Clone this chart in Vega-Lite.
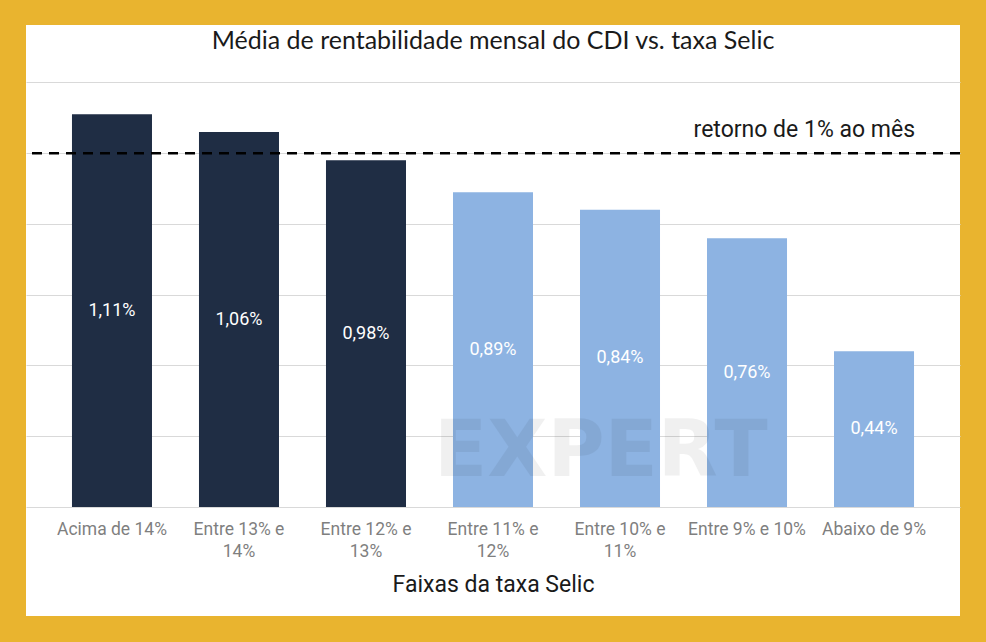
{
  "$schema": "https://vega.github.io/schema/vega-lite/v6.json",
  "autosize": {"type": "none"},
  "width": 934,
  "height": 591,
  "padding": {"left": 26, "top": 25, "right": 26, "bottom": 26},
  "background": "#E9B42F",
  "config": {"view": {"fill": "white", "stroke": null}},
  "title": {
    "text": "Média de rentabilidade mensal do CDI vs. taxa Selic",
    "font": "Lato",
    "fontSize": 25,
    "fontWeight": "normal",
    "color": "#1a1a1a",
    "anchor": "middle",
    "frame": "group",
    "baseline": "alphabetic",
    "offset": -49
  },
  "datasets": {
    "faixas": [
      {"faixa": "Acima de 14%", "valor": 1.11, "rotulo": "1,11%", "grupo": "alto"},
      {"faixa": "Entre 13% e 14%", "valor": 1.06, "rotulo": "1,06%", "grupo": "alto"},
      {"faixa": "Entre 12% e 13%", "valor": 0.98, "rotulo": "0,98%", "grupo": "alto"},
      {"faixa": "Entre 11% e 12%", "valor": 0.89, "rotulo": "0,89%", "grupo": "baixo"},
      {"faixa": "Entre 10% e 11%", "valor": 0.84, "rotulo": "0,84%", "grupo": "baixo"},
      {"faixa": "Entre 9% e 10%", "valor": 0.76, "rotulo": "0,76%", "grupo": "baixo"},
      {"faixa": "Abaixo de 9%", "valor": 0.44, "rotulo": "0,44%", "grupo": "baixo"}
    ],
    "referencia": [
      {"meta": 1.0, "texto": "retorno de 1% ao mês", "faixa": "Abaixo de 9%"}
    ],
    "marca": [
      {"texto": "EXPERT", "faixa": "Entre 11% e 12%", "nivel": 0.153}
    ]
  },
  "data": {"name": "faixas"},
  "layer": [
    {
      "mark": {"type": "bar"},
      "encoding": {
        "x": {
          "field": "faixa",
          "type": "nominal",
          "sort": null,
          "scale": {"paddingInner": 0.37, "paddingOuter": 0.362},
          "axis": {
            "title": "Faixas da taxa Selic",
            "titleFont": "Roboto",
            "titleFontSize": 23,
            "titleFontWeight": "normal",
            "titleColor": "#1a1a1a",
            "titlePadding": 14,
            "labelFont": "Roboto",
            "labelFontSize": 17.5,
            "labelColor": "#7f7f7f",
            "labelAngle": 0,
            "labelPadding": 13,
            "labelLineHeight": 22,
            "domain": false,
            "ticks": false,
            "offset": -109,
            "labelExpr": "length(datum.label) > 14 ? [substring(datum.label, 0, lastindexof(datum.label, ' ')), substring(datum.label, lastindexof(datum.label, ' ') + 1)] : datum.label"
          }
        },
        "y": {
          "field": "valor",
          "type": "quantitative",
          "scale": {"domain": [-0.3081, 1.3625], "nice": false, "zero": false},
          "axis": {
            "values": [0, 0.2, 0.4, 0.6, 0.8, 1.0, 1.2],
            "grid": true,
            "gridColor": "#d9d9d9",
            "gridWidth": 1,
            "labels": false,
            "ticks": false,
            "domain": false,
            "title": null
          }
        },
        "y2": {"datum": 0},
        "color": {
          "field": "grupo",
          "type": "nominal",
          "scale": {"domain": ["alto", "baixo"], "range": ["#1F2D44", "#8DB3E2"]},
          "legend": null
        }
      }
    },
    {
      "data": {"name": "marca"},
      "mark": {
        "type": "text",
        "font": "DejaVu Sans",
        "fontWeight": "bold",
        "fontSize": 78,
        "align": "left",
        "baseline": "middle",
        "dx": -59,
        "color": "black",
        "opacity": 0.055
      },
      "encoding": {
        "x": {"field": "faixa", "type": "nominal", "sort": null},
        "y": {
          "field": "nivel",
          "type": "quantitative",
          "scale": {"domain": [-0.3081, 1.3625], "nice": false, "zero": false},
          "axis": null
        },
        "text": {"field": "texto"}
      }
    },
    {
      "mark": {"type": "text", "color": "white", "font": "Roboto", "fontSize": 18, "baseline": "middle"},
      "encoding": {
        "x": {"field": "faixa", "type": "nominal", "sort": null},
        "y": {
          "field": "valor",
          "type": "quantitative",
          "scale": {"domain": [-0.6162, 2.725], "nice": false, "zero": false},
          "axis": null
        },
        "text": {"field": "rotulo"}
      }
    },
    {
      "data": {"name": "referencia"},
      "mark": {"type": "rule", "strokeDash": [10, 7], "strokeWidth": 2.5, "color": "black"},
      "encoding": {
        "y": {
          "field": "meta",
          "type": "quantitative",
          "scale": {"domain": [-0.3081, 1.3625], "nice": false, "zero": false},
          "axis": null
        }
      }
    },
    {
      "data": {"name": "referencia"},
      "mark": {
        "type": "text",
        "font": "Roboto",
        "fontSize": 23,
        "fontWeight": "normal",
        "align": "right",
        "baseline": "alphabetic",
        "dx": 41,
        "dy": -16,
        "color": "#1a1a1a"
      },
      "encoding": {
        "x": {"field": "faixa", "type": "nominal", "sort": null},
        "y": {
          "field": "meta",
          "type": "quantitative",
          "scale": {"domain": [-0.3081, 1.3625], "nice": false, "zero": false},
          "axis": null
        },
        "text": {"field": "texto"}
      }
    }
  ],
  "resolve": {"scale": {"y": "independent"}}
}
